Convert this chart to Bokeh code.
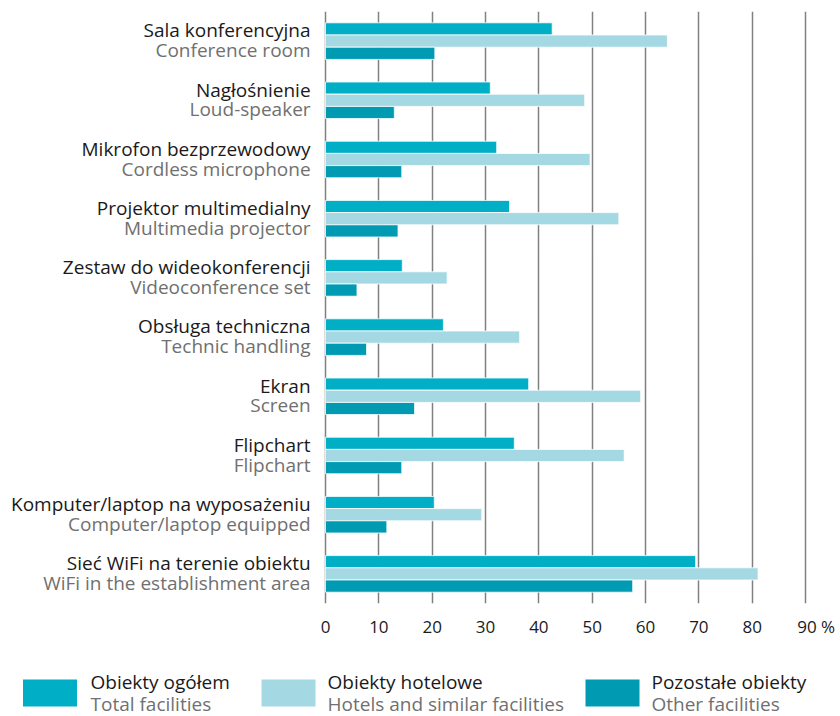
from bokeh.plotting import figure
from bokeh.models import Range1d, FixedTicker, ColumnDataSource
from bokeh.layouts import column
from bokeh.embed import file_html
from bokeh.resources import INLINE
from bokeh.core.properties import value

# ---- data ----
labels_pl = ["Sala konferencyjna", "Nagłośnienie", "Mikrofon bezprzewodowy",
             "Projektor multimedialny", "Zestaw do wideokonferencji",
             "Obsługa techniczna", "Ekran", "Flipchart",
             "Komputer/laptop na wyposażeniu", "Sieć WiFi na terenie obiektu"]
labels_en = ["Conference room", "Loud-speaker", "Cordless microphone",
             "Multimedia projector", "Videoconference set", "Technic handling",
             "Screen", "Flipchart", "Computer/laptop equipped",
             "WiFi in the establishment area"]
total = [42.5, 30.9, 32.1, 34.5, 14.4, 22.1, 38.1, 35.4, 20.4, 69.4]
hotels = [64.1, 48.6, 49.6, 55.0, 22.8, 36.4, 59.1, 56.0, 29.3, 81.1]
other = [20.5, 12.9, 14.3, 13.6, 5.9, 7.7, 16.7, 14.3, 11.5, 57.6]
series_pl = ["Obiekty ogółem", "Obiekty hotelowe", "Pozostałe obiekty"]
series_en = ["Total facilities", "Hotels and similar facilities", "Other facilities"]
ticks = [0, 10, 20, 30, 40, 50, 60, 70, 80, 90]
last_tick_label = "90 %"

colors = ["#00AEC6", "#A4D8E2", "#009BB3"]
FONT = "Open Sans"
BLACK = "#1a1a1a"
GRAY = "#707070"

n = len(labels_pl)
pos = list(range(n))

p = figure(width=840, height=650, output_backend="svg", toolbar_location=None,
           x_range=Range1d(-60.94, 96.56), y_range=Range1d(n - 0.5, -0.5),
           min_border_left=0, min_border_right=0, min_border_top=11,
           min_border_bottom=47, outline_line_color=None)

bh = 0.206
for k, (vals, off) in enumerate(zip([total, hotels, other], [-bh, 0, bh])):
    src = ColumnDataSource(dict(y=[i + off for i in pos], right=vals))
    p.hbar(y="y", left=0, right="right", height=bh, source=src,
           fill_color=colors[k], line_color="white", line_width=0.8)

src_l = ColumnDataSource(dict(x=[-2.8] * n, y1=[i - 0.182 for i in pos],
                              y2=[i + 0.155 for i in pos], t1=labels_pl, t2=labels_en))
p.text(x="x", y="y1", text="t1", source=src_l, text_align="right",
       text_baseline="middle", text_font=value(FONT), text_font_size="19px",
       text_color=BLACK)
p.text(x="x", y="y2", text="t2", source=src_l, text_align="right",
       text_baseline="middle", text_font=value(FONT), text_font_size="19px",
       text_color=GRAY)

p.yaxis.visible = False
p.ygrid.visible = False
# the "%" suffix: label centred slightly right so that "90" sits on its gridline
label_shift = 2.0
axis_ticks = ticks[:-1] + [ticks[-1] + label_shift]
p.xaxis.ticker = FixedTicker(ticks=axis_ticks)
p.xaxis.major_label_overrides = {ticks[-1] + label_shift: last_tick_label}
p.xgrid.ticker = FixedTicker(ticks=ticks)
p.xgrid.grid_line_color = "#808080"
p.xgrid.grid_line_width = 1.5
p.xaxis.axis_line_color = None
p.xaxis.major_tick_line_color = None
p.xaxis.minor_tick_line_color = None
p.xaxis.major_label_standoff = 5
p.xaxis.major_label_text_font = FONT
p.xaxis.major_label_text_font_size = "17px"
p.xaxis.major_label_text_color = BLACK

# ---- legend figure ----
lg = figure(width=840, height=66, output_backend="svg", toolbar_location=None,
            x_range=Range1d(0, 840), y_range=Range1d(66, 0),
            min_border=0, outline_line_color=None)
lg.axis.visible = False
lg.grid.visible = False
sq_x = [22.5, 261, 585]
tx_x = [90, 327, 651]
lg.quad(left=sq_x, right=[x + 54 for x in sq_x], top=[29] * 3, bottom=[56] * 3,
        fill_color=colors, line_color=None)
lg.text(x=tx_x, y=[31.5] * 3, text=series_pl, text_font=value(FONT),
        text_font_size="19px", text_color=BLACK, text_baseline="middle")
lg.text(x=tx_x, y=[53.5] * 3, text=series_en, text_font=value(FONT),
        text_font_size="19px", text_color=GRAY, text_baseline="middle")

layout = column(p, lg, spacing=0)
open("out.html", "w").write(file_html(layout, INLINE))
